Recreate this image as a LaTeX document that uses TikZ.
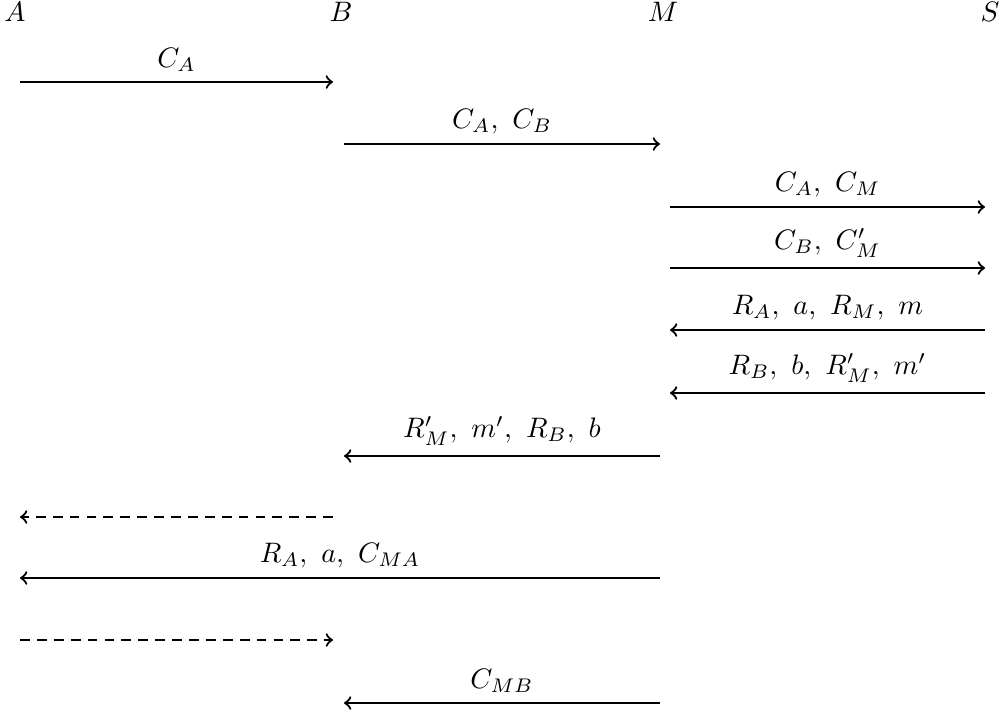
\documentclass[tikz,border=0pt]{standalone}
\usetikzlibrary{arrows}
\begin{document}
\begin{tikzpicture}[x=0.355pt,y=-0.355pt,
  msg/.style={thick,->},
  dmsg/.style={thick,->,dash pattern=on 3.5pt off 2.5pt},
  lbl/.style={above,midway},
  party/.style={inner sep=0pt}]
\useasboundingbox (0,0) rectangle (1004,713);
\node[party] (A) at (15,12) {$A$};
\node[party] (B) at (341,12) {$B$};
\node[party] (M) at (663,12) {$M$};
\node[party] (S) at (990,12) {$S$};
% row coordinates
\coordinate (a1) at (20,82);  \coordinate (b1) at (333,82);
\coordinate (b2) at (344,144); \coordinate (m2) at (660,144);
\coordinate (m3) at (670,207); \coordinate (s3) at (985,207);
\coordinate (m4) at (670,268); \coordinate (s4) at (985,268);
\coordinate (s5) at (985,330); \coordinate (m5) at (670,330);
\coordinate (s6) at (985,393); \coordinate (m6) at (670,393);
\coordinate (m7) at (660,456); \coordinate (b7) at (344,456);
\coordinate (b8) at (333,517); \coordinate (a8) at (20,517);
\coordinate (m9) at (660,578); \coordinate (a9) at (20,578);
\coordinate (a10) at (20,640); \coordinate (b10) at (333,640);
\coordinate (m11) at (660,703); \coordinate (b11) at (344,703);
\draw[msg] (a1) -- (b1) node[lbl] {$C_A$};
\draw[msg] (b2) -- (m2) node[lbl] {$C_A,\ C_B$};
\draw[msg] (m3) -- (s3) node[lbl] {$C_A,\ C_M$};
\draw[msg] (m4) -- (s4) node[lbl] {$C_B,\ C'_M$};
\draw[msg] (s5) -- (m5) node[lbl] {$R_A,\ a,\ R_M,\ m$};
\draw[msg] (s6) -- (m6) node[lbl] {$R_B,\ b,\ R'_M,\ m'$};
\draw[msg] (m7) -- (b7) node[lbl] {$R'_M,\ m',\ R_B,\ b$};
\draw[dmsg] (b8) -- (a8);
\draw[msg] (m9) -- (a9) node[lbl] {$R_A,\ a,\ C_{MA}$};
\draw[dmsg] (a10) -- (b10);
\draw[msg] (m11) -- (b11) node[lbl] {$C_{MB}$};
\end{tikzpicture}
\end{document}
